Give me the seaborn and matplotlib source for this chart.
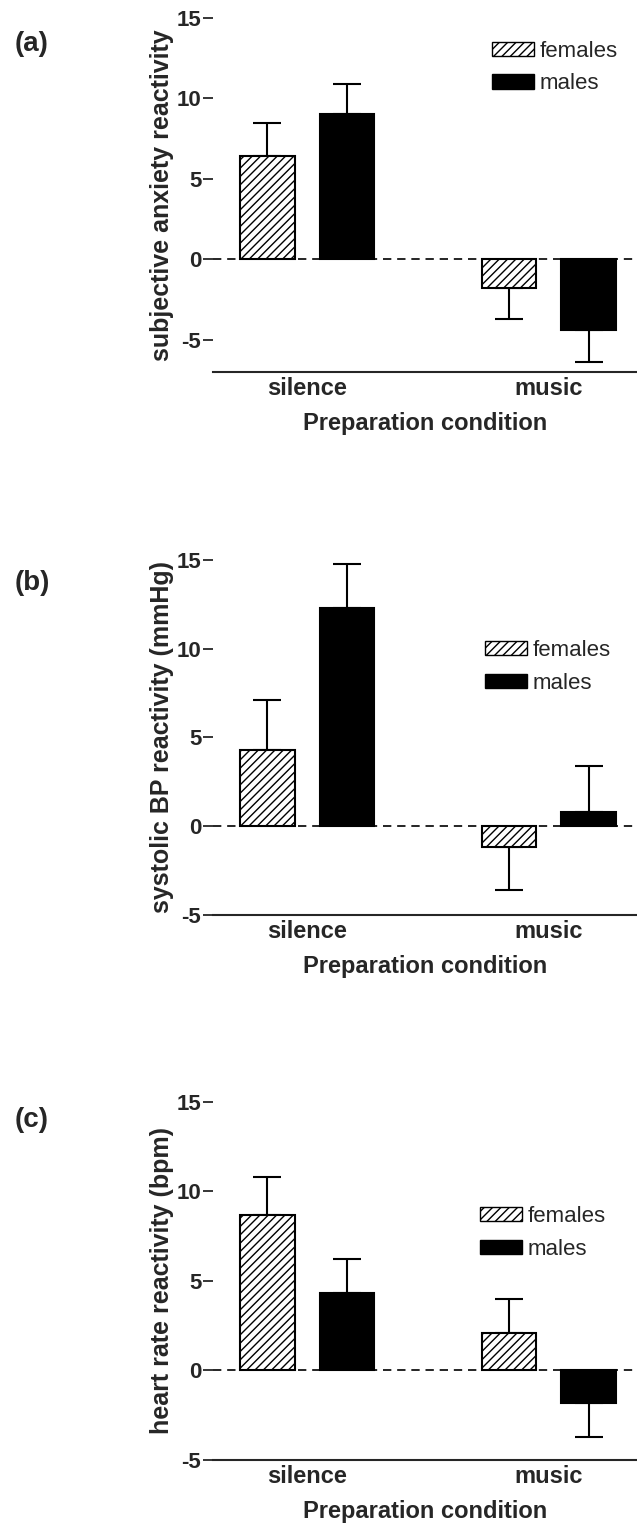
import numpy as np
import pandas as pd
import matplotlib
matplotlib.use('Agg')
import matplotlib.pyplot as plt
import seaborn as sns
from matplotlib.patches import Patch

# reactivity scores (means and SEM)
conditions = ['silence', 'music']
groups = ['females', 'males']

anxiety_females = [6.4, -1.8]
anxiety_males = [9.0, -4.4]
anxiety_females_sem = [2.1, 1.9]
anxiety_males_sem = [1.9, 2.0]

bp_females = [4.3, -1.2]
bp_males = [12.3, 0.8]
bp_females_sem = [2.8, 2.4]
bp_males_sem = [2.5, 2.6]

hr_females = [8.7, 2.1]
hr_males = [4.3, -1.8]
hr_females_sem = [2.1, 1.9]
hr_males_sem = [1.95, 1.9]

yticks = [-5, 0, 5, 10, 15]


def make_frame(fem, mal):
    rows = []
    for c, f, m in zip(conditions, fem, mal):
        rows.append({'condition': c, 'group': 'females', 'value': f})
        rows.append({'condition': c, 'group': 'males', 'value': m})
    return pd.DataFrame(rows)


sns.set_style('ticks')
plt.rcParams['font.family'] = ['Liberation Sans', 'DejaVu Sans']
plt.rcParams['font.weight'] = 'bold'
plt.rcParams['axes.unicode_minus'] = False
plt.rcParams['hatch.linewidth'] = 1.0

fig = plt.figure(figsize=(6.37, 15.3), dpi=100)

panels = [
    # label, ylabel, data, sems, ylim, axes rect, legend anchor, label y
    ('(a)', 'subjective anxiety reactivity',
     (anxiety_females, anxiety_males), (anxiety_females_sem, anxiety_males_sem),
     (-7, 15), [0.3344, 0.7569, 0.6656, 0.2314], (0.658, 0.936), 0.925),
    ('(b)', 'systolic BP reactivity (mmHg)',
     (bp_females, bp_males), (bp_females_sem, bp_males_sem),
     (-5, 15), [0.3344, 0.4020, 0.6656, 0.2320], (0.642, 0.775), 0.935),
    ('(c)', 'heart rate reactivity (bpm)',
     (hr_females, hr_males), (hr_females_sem, hr_males_sem),
     (-5, 15), [0.3344, 0.0458, 0.6656, 0.2340], (0.630, 0.710), 0.95),
]

for label, ylabel, (fem, mal), sems, ylim, rect, leg_xy, lab_y in panels:
    ax = fig.add_axes(rect)
    df = make_frame(fem, mal)
    sns.barplot(data=df, x='condition', y='value', hue='group',
                order=conditions, hue_order=groups,
                palette={'females': 'white', 'males': 'black'},
                edgecolor='black', linewidth=1.5, width=0.66, gap=0.315,
                errorbar=None, legend=False, ax=ax, zorder=2)

    for bar in ax.containers[0]:
        bar.set_hatch('////')

    # one-sided error bars, pointing away from zero
    for container, sem in zip(ax.containers, sems):
        for bar, err in zip(container, sem):
            x = bar.get_x() + bar.get_width() / 2
            h = bar.get_height()
            yerr = [[0], [err]] if h >= 0 else [[err], [0]]
            ax.errorbar(x, h, yerr=yerr, fmt='none', ecolor='black',
                        elinewidth=1.5, capsize=10, capthick=1.5, zorder=1)

    ax.axhline(0, color='black', lw=1.2, ls=(0, (5, 3.5)), zorder=0.5)

    ax.set_ylim(*ylim)
    ax.set_xlim(-0.39, 1.365)
    ax.set_yticks(yticks)
    ax.set_yticklabels([str(t) for t in yticks])
    sns.despine(ax=ax, left=True)
    ax.spines['bottom'].set_linewidth(1.5)
    ax.tick_params(axis='y', length=7, width=1.3, pad=1.5, labelsize=16)
    ax.tick_params(axis='x', length=0, pad=4, labelsize=17)

    ax.set_ylabel(ylabel, fontsize=18, fontweight='bold', labelpad=2)
    ax.set_xlabel('Preparation condition', fontsize=17, fontweight='bold', labelpad=8)

    handles = [Patch(facecolor='white', edgecolor='black', hatch='////', lw=1),
               Patch(facecolor='black', edgecolor='black')]
    ax.legend(handles, groups, loc='upper left', bbox_to_anchor=leg_xy,
              frameon=False, borderpad=0, borderaxespad=0, handletextpad=0.25,
              labelspacing=0.53, handlelength=1.9, handleheight=0.6,
              prop={'weight': 'normal', 'size': 16})

    ax.text(-0.468, lab_y, label, transform=ax.transAxes, fontsize=20,
            fontweight='bold', va='center', ha='left')

fig.savefig('out.png', dpi=100)
